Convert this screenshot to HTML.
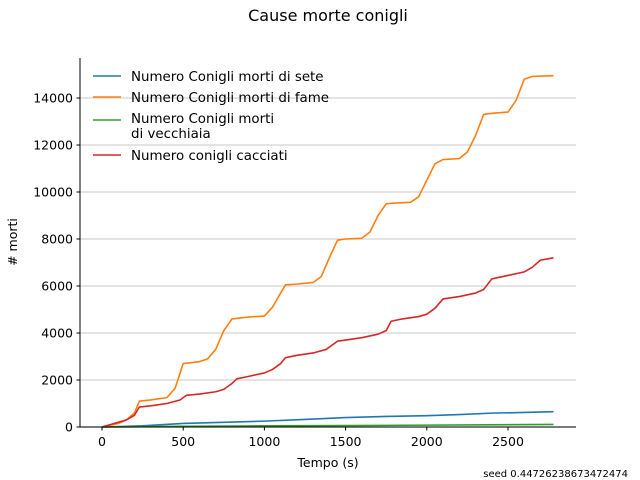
<!DOCTYPE html>
<html><head><meta charset="utf-8">
<style>
body{margin:0;background:#fff;}
svg{display:block;font-family:"DejaVu Sans","Liberation Sans",sans-serif;}
</style></head>
<body>
<svg id="chart" width="640" height="480">
<text x="328" y="21" text-anchor="middle" font-size="16">Cause morte conigli</text>
<g id="grid"></g>
<g id="series"></g>
<g id="axes"></g>
<text x="628" y="477" font-size="10" text-anchor="end">seed 0.44726238673472474</text>
<text x="328" y="467" text-anchor="middle" font-size="12.5">Tempo (s)</text>
<text transform="translate(17,242) rotate(-90)" text-anchor="middle" font-size="12.5"># morti</text>
<g id="legend"></g>
</svg>
<script>
const xTicks=[0,500,1000,1500,2000,2500];
const yTicks=[0,2000,4000,6000,8000,10000,12000,14000];
const seriesNames=["Numero Conigli morti di sete","Numero Conigli morti di fame","Numero Conigli morti\n di vecchiaia","Numero conigli cacciati"];
const seriesColors=["#1f77b4","#ff7f0e","#2ca02c","#d62728"];
const sete=[[0,0],[250,50],[500,150],[750,200],[1000,250],[1250,320],[1500,400],[1750,450],[2000,480],[2200,530],[2400,590],[2600,620],[2780,650]];
const fame=[[0,0],[100,150],[150,300],[200,600],[230,1100],[300,1150],[400,1250],[450,1650],[500,2700],[600,2780],[650,2900],[700,3300],[750,4100],[800,4600],[900,4680],[1000,4720],[1050,5100],[1100,5700],[1130,6050],[1200,6080],[1300,6150],[1350,6400],[1400,7200],[1450,7950],[1500,8000],[1600,8030],[1650,8300],[1700,9000],[1750,9500],[1800,9530],[1900,9560],[1950,9800],[2000,10500],[2050,11200],[2100,11380],[2200,11420],[2250,11700],[2300,12400],[2350,13300],[2400,13350],[2500,13400],[2550,13900],[2600,14800],[2650,14920],[2780,14950]];
const vecchiaia=[[0,0],[500,30],[1000,50],[1500,60],[2000,80],[2500,100],[2780,110]];
const cacciati=[[0,0],[150,300],[200,500],[230,850],[300,900],[400,1000],[480,1150],[520,1350],[600,1400],[700,1500],[750,1600],[800,1850],[830,2050],[900,2150],[1000,2300],[1050,2450],[1100,2700],[1130,2950],[1200,3050],[1300,3150],[1380,3300],[1450,3650],[1500,3700],[1600,3800],[1700,3950],[1750,4100],[1780,4500],[1850,4600],[1950,4700],[2000,4800],[2050,5050],[2100,5450],[2200,5550],[2300,5700],[2350,5850],[2400,6300],[2500,6450],[2600,6600],[2650,6800],[2700,7100],[2780,7200]];
const NS="http://www.w3.org/2000/svg";
const X=v=>102+v*0.1624, Y=v=>427-v*0.0235;
function mk(tag,attrs,parent){const e=document.createElementNS(NS,tag);for(const k in attrs)e.setAttribute(k,attrs[k]);parent.appendChild(e);return e;}
const grid=document.getElementById('grid'),axes=document.getElementById('axes'),ser=document.getElementById('series'),leg=document.getElementById('legend');
yTicks.forEach(t=>{
 const g=mk('line',{x1:80,x2:576,y1:Y(t),y2:Y(t),stroke:'#d3d3d3','stroke-width':1.2},grid);
 
 
 mk('line',{x1:76.5,x2:80,y1:Y(t),y2:Y(t),stroke:'#000'},axes);
 const l=mk('text',{x:73,y:Y(t)+4.5,'text-anchor':'end','font-size':12.5},axes);l.textContent=t;
 
 
});
xTicks.forEach(t=>{
 mk('line',{x1:X(t),x2:X(t),y1:427,y2:430.5,stroke:'#000'},axes);
 const l=mk('text',{x:X(t),y:446,'text-anchor':'middle','font-size':12.5},axes);l.textContent=t;
 
 
});
const ya=mk('line',{x1:80,x2:80,y1:58,y2:427,stroke:'#000'},axes);


const xa=mk('line',{x1:80,x2:576,y1:427,y2:427,stroke:'#000'},axes);


const all=[sete,fame,vecchiaia,cacciati];
const sNames=['series-sete','series-fame','series-vecchiaia','series-cacciati'];
all.forEach((d,i)=>{
 const p=mk('polyline',{points:d.map(q=>X(q[0])+','+Y(q[1])).join(' '),fill:'none',stroke:seriesColors[i],'stroke-width':1.6,'stroke-linejoin':'round'},ser);
 
 
});
const ly=[81,102,123,160];
const swy=[76,97,120,155];
seriesNames.forEach((n,i)=>{
 const ln=mk('line',{x1:93,x2:121,y1:swy[i],y2:swy[i],stroke:seriesColors[i],'stroke-width':1.6},leg);
 
 
 n.split('\n').forEach((p,j)=>{
  const t=mk('text',{x:131,y:ly[i]+j*15,'font-size':13.4,'xml:space':'preserve'},leg);
  t.textContent=p;
  
  
 });
});
</script>
</body></html>
